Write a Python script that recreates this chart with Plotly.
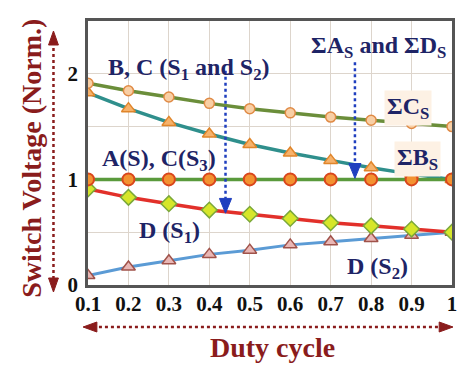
import plotly.graph_objects as go

# ---------------- data ----------------
duty = [0.1, 0.2, 0.3, 0.4, 0.5, 0.6, 0.7, 0.8, 0.9, 1.0]
sum_cs = [1.91, 1.84, 1.78, 1.72, 1.67, 1.63, 1.59, 1.56, 1.53, 1.50]
sum_bs = [1.82, 1.67, 1.54, 1.43, 1.33, 1.25, 1.18, 1.11, 1.05, 1.00]
a_c3 = [1.0, 1.0, 1.0, 1.0, 1.0, 1.0, 1.0, 1.0, 1.0, 1.0]
d_s1 = [0.91, 0.83, 0.77, 0.71, 0.67, 0.63, 0.59, 0.56, 0.53, 0.50]
d_s2 = [0.09, 0.17, 0.23, 0.29, 0.33, 0.38, 0.41, 0.44, 0.47, 0.50]
x_ticks = [0.1, 0.2, 0.3, 0.4, 0.5, 0.6, 0.7, 0.8, 0.9, 1.0]
x_ticktext = ["0.1", "0.2", "0.3", "0.4", "0.5", "0.6", "0.7", "0.8", "0.9", "1"]
y_ticks = [0, 0.5, 1, 1.5, 2, 2.5]
y_ticktext = ["0", "", "1", "", "2", ""]

# ---------------- layout constants ----------------
W, H = 460, 365
L, R, T, B = 88, 3, 21, 80
PW, PH = W - L - R, H - T - B
FONT = "Liberation Serif"
NAVY = "#1e2466"
DRED = "#8a1c1c"


def px(xp):
    return (xp - L) / PW


def py(yp):
    return (H - B - yp) / PH


fig = go.Figure()

fig.add_trace(go.Scatter(x=duty, y=d_s2, mode="lines+markers",
                         line=dict(color="#5b9bd5", width=3),
                         marker=dict(symbol="triangle-up", size=12, color="#e9b7b5",
                                     line=dict(color="#a0524a", width=1.5))))
fig.add_trace(go.Scatter(x=duty, y=d_s1, mode="lines+markers",
                         line=dict(color="#e2302a", width=3.5),
                         marker=dict(symbol="diamond", size=12, color="#d6e62a",
                                     line=dict(color="#7aa83a", width=1.5))))
fig.add_trace(go.Scatter(x=duty, y=sum_bs, mode="lines+markers",
                         line=dict(color="#2f8f8c", width=3.5),
                         marker=dict(symbol="triangle-up", size=12, color="#f6b26b",
                                     line=dict(color="#e0852a", width=1.5))))
fig.add_trace(go.Scatter(x=duty, y=a_c3, mode="lines+markers",
                         line=dict(color="#5a9a3c", width=3.5),
                         marker=dict(symbol="circle", size=12, color="#f39230",
                                     line=dict(color="#d9461c", width=2))))
fig.add_trace(go.Scatter(x=duty, y=sum_cs, mode="lines+markers",
                         line=dict(color="#6b8e3a", width=3.5),
                         marker=dict(symbol="circle", size=10, color="#f8cfa5",
                                     line=dict(color="#e08a45", width=1.5))))

shapes = []
# blue dotted arrows inside the plot
for xa, y0, y1 in [(0.44, 2.03, 0.82), (0.76, 2.11, 1.15)]:
    shapes.append(dict(type="line", xref="x", yref="y", x0=xa, x1=xa, y0=y0, y1=y1,
                       line=dict(color="#1f3fbf", width=2.5, dash="dot")))
    hw = 0.015
    shapes.append(dict(type="path", xref="x", yref="y",
                       path=f"M {xa-hw},{y1} L {xa+hw},{y1} L {xa},{y1-0.14} Z",
                       fillcolor="#1f3fbf", line=dict(color="#1f3fbf", width=1)))

# dark red dotted axis arrows (outside plot)
AX = 53
vx = px(AX)
shapes.append(dict(type="line", xref="paper", yref="paper", x0=vx, x1=vx,
                   y0=py(42), y1=py(283), line=dict(color=DRED, width=2.5, dash="dot")))
shapes.append(dict(type="path", xref="paper", yref="paper",
                   path=f"M {px(AX-5)},{py(45)} L {px(AX+5)},{py(45)} L {px(AX)},{py(31)} Z",
                   fillcolor=DRED, line=dict(color=DRED, width=1)))
shapes.append(dict(type="path", xref="paper", yref="paper",
                   path=f"M {px(AX-5)},{py(278)} L {px(AX+5)},{py(278)} L {px(AX)},{py(292)} Z",
                   fillcolor=DRED, line=dict(color=DRED, width=1)))
hy = py(327)
shapes.append(dict(type="line", xref="paper", yref="paper", x0=px(93), x1=px(447),
                   y0=hy, y1=hy, line=dict(color=DRED, width=2.5, dash="dot")))
shapes.append(dict(type="path", xref="paper", yref="paper",
                   path=f"M {px(97)},{py(322)} L {px(97)},{py(332)} L {px(83)},{hy} Z",
                   fillcolor=DRED, line=dict(color=DRED, width=1)))
shapes.append(dict(type="path", xref="paper", yref="paper",
                   path=f"M {px(444)},{py(322)} L {px(444)},{py(332)} L {px(458)},{hy} Z",
                   fillcolor=DRED, line=dict(color=DRED, width=1)))


def ann(text, xc, yc, size=24, color=NAVY, bg=None):
    d = dict(text=text, xref="paper", yref="paper", x=px(xc), y=py(yc),
             xanchor="center", yanchor="middle", showarrow=False,
             font=dict(family=FONT, size=size, color=color, weight="bold"))
    if bg:
        d["bgcolor"] = bg
        d["borderpad"] = 2
    return d


annotations = [
    ann("B, C (S<sub>1</sub> and S<sub>2</sub>)", 190, 69),
    ann("ΣA<sub>S</sub> and ΣD<sub>S</sub>", 382, 47),
    ann("ΣC<sub>S</sub>", 412, 108, bg="#fdf1e4"),
    ann("ΣB<sub>S</sub>", 422, 159, bg="#fdf1e4"),
    ann("A(S), C(S<sub>3</sub>)", 160, 160),
    ann("D (S<sub>1</sub>)", 171, 232),
    ann("D (S<sub>2</sub>)", 381, 268),
    ann("Duty cycle", 275, 347, size=28, color=DRED),
    dict(text="Switch Voltage (Norm.)", xref="paper", yref="paper", x=px(30), y=py(158),
         xanchor="center", yanchor="middle", showarrow=False, textangle=-90,
         font=dict(family=FONT, size=28, color=DRED, weight="bold")),
]

axis_font = dict(family=FONT, size=21, color="#111111", weight="bold")
fig.update_layout(
    width=W, height=H,
    margin=dict(l=L, r=R, t=T, b=B),
    paper_bgcolor="white", plot_bgcolor="white",
    showlegend=False,
    shapes=shapes, annotations=annotations,
    xaxis=dict(range=[0.1, 1.0], tickvals=x_ticks, ticktext=x_ticktext,
               tickfont=axis_font, showgrid=True, gridcolor="#ddd5cc", gridwidth=1,
               showline=True, linecolor="#555555", linewidth=2.5, mirror=True,
               zeroline=False, ticks="", ticklabelstandoff=-2),
    yaxis=dict(range=[0, 2.5], tickvals=y_ticks, ticktext=y_ticktext,
               tickfont=axis_font, showgrid=True, gridcolor="#ddd5cc", gridwidth=1,
               showline=True, linecolor="#555555", linewidth=2.5, mirror=True,
               zeroline=False, ticks="", ticklabelstandoff=3),
)

fig.write_html("out.html", config={"displayModeBar": False},
               post_script="document.body.style.margin='0';document.body.style.overflow='hidden';")
